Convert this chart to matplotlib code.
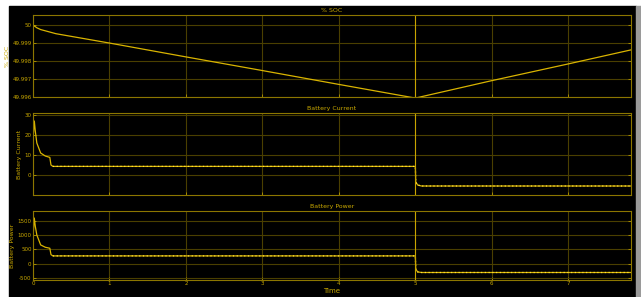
import matplotlib.pyplot as plt
from matplotlib.patches import Rectangle

# time breakpoints
t_soc = [0, 0.05, 0.1, 0.3, 1, 2, 3, 4, 5, 6, 7, 7.82]
soc = [50.0, 49.99985, 49.99975, 49.99952, 49.999, 49.99823, 49.99747,
       49.9967, 49.99594, 49.99691, 49.99784, 49.99862]

t_cur = [0, 0.005, 0.017, 0.03, 0.05, 0.1, 0.16, 0.22, 0.235, 0.26, 1, 2, 3, 4,
         5.0, 5.005, 5.03, 5.08, 6, 7, 7.82]
cur = [0, 20, 27, 22, 16, 11, 9.5, 8.8, 5.0, 4.3, 4.3, 4.3, 4.3, 4.3,
       4.3, -3.5, -5.0, -5.5, -5.5, -5.5, -5.5]

t_pow = t_cur
pwr = [0, 1100, 1586, 1300, 1000, 655, 575, 540, 320, 275, 275, 275, 275, 275,
       275, -180, -280, -300, -300, -300, -300]

line_c = '#d9b400'
grid_c = '#4a3f00'
frame_c = '#8c7600'
text_c = '#c9a800'

fig = plt.figure(figsize=(6.41, 2.97), dpi=100)
fig.patch.set_facecolor('white')
fig.patches.append(Rectangle((9 / 641, 0), 627 / 641, 291 / 297,
                             transform=fig.transFigure, color='black', zorder=-10))
fig.patches.append(Rectangle((636 / 641, 0), 5 / 641, 291 / 297,
                             transform=fig.transFigure, color='#9a9a9a', zorder=-10))

L, W = 33 / 641, 598 / 641
ax1 = fig.add_axes([L, 1 - 97 / 297, W, 82 / 297])
ax2 = fig.add_axes([L, 1 - 195 / 297, W, 82 / 297])
ax3 = fig.add_axes([L, 1 - 280 / 297, W, 69 / 297])

panels = [
    (ax1, t_soc, soc, '% SOC', '% SOC', (49.99944, 50.00056),
     [50, 49.999, 49.998, 49.997, 49.996], ['50', '49.999', '49.998', '49.997', '49.996']),
    (ax2, t_cur, cur, 'Battery Current', 'Battery Current', (-10, 31),
     [0, 10, 20, 30], ['0', '10', '20', '30']),
    (ax3, t_pow, pwr, 'Battery Power', 'Battery Power', (-560, 1830),
     [-500, 0, 500, 1000, 1500], ['-500', '0', '500', '1000', '1500']),
]

for ax, t, y, title, ylab, ylim, yt, ytl in panels:
    ax.set_facecolor('black')
    ax.plot(t, y, color=line_c, lw=0.9)
    if ax is not ax1:
        ax.plot(t[9:], y[9:], color='#ffe040', lw=0.9, ls=(0, (1, 2)))
    ax.axvline(5, color='#c8a400', lw=0.8)
    ax.set_xlim(0, 7.82)
    ax.set_ylim(*ylim)
    ax.set_yticks(yt)
    ax.set_yticklabels(ytl)
    ax.set_xticks(range(8))
    ax.grid(True, color=grid_c, lw=0.8)
    ax.set_title(title, color=text_c, fontsize=4.5, pad=2)
    ax.set_ylabel(ylab, color=text_c, fontsize=4.5, labelpad=2)
    ax.tick_params(colors=text_c, labelsize=4, length=2, width=0.5, pad=1,
                   right=True, direction='in')
    for s in ax.spines.values():
        s.set_color(frame_c)
        s.set_linewidth(0.8)
    if ax is not ax3:
        ax.tick_params(labelbottom=False)

ax3.set_xlabel('Time', color=text_c, fontsize=5, labelpad=1)

plt.savefig('out.png', dpi=100, facecolor=fig.get_facecolor())
